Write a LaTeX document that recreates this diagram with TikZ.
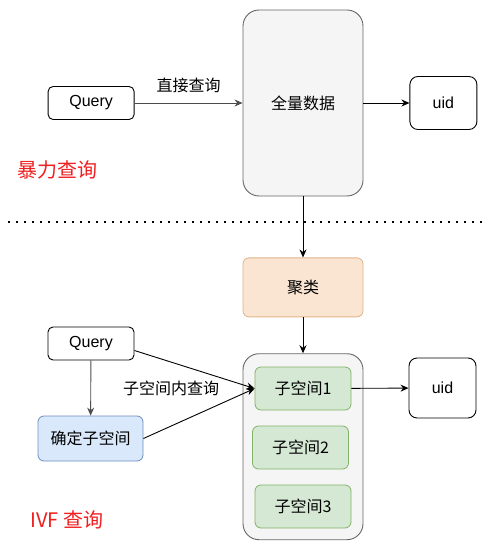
\documentclass[tikz,border=0pt]{standalone}
\usepackage{fontspec}
\setmainfont{Liberation Sans}
\newfontfamily\cjk{Noto Sans CJK SC}
\usepackage{xcolor}
\usetikzlibrary{positioning,arrows.meta}

\definecolor{boxgray}{HTML}{F5F5F5}
\definecolor{edgegray}{HTML}{666666}
\definecolor{orangefill}{HTML}{FAE5D3}
\definecolor{orangeline}{HTML}{E0B488}
\definecolor{greenfill}{HTML}{D5E8D4}
\definecolor{greenline}{HTML}{82B366}
\definecolor{bluefill}{HTML}{DAE8FC}
\definecolor{blueline}{HTML}{6C8EBF}
\definecolor{tagred}{HTML}{F01E1E}

\begin{document}
\begin{tikzpicture}[
  x=1pt, y=-1pt,
  node distance=40pt and 40pt,
  every node/.style={font=\fontsize{16}{18}\selectfont\cjk},
  plain/.style={draw, rounded corners=5pt, line width=0.9pt, minimum height=33pt, minimum width=86pt, inner sep=2pt},
  store/.style={draw=edgegray, fill=boxgray, rounded corners=16pt, line width=0.9pt, minimum width=120pt, minimum height=186pt},
  sub/.style={draw=greenline, fill=greenfill, rounded corners=6pt, line width=0.8pt, minimum width=96pt, minimum height=43pt},
  tag/.style={text=tagred, font=\fontsize{20}{22}\selectfont\cjk},
  arr/.style={-{Stealth[length=8pt,width=7pt]}, line width=0.9pt},
]
\useasboundingbox (0,0) rectangle (488,548);

% brute force
\node[store] (full) at (303,103) {全量数据};
\node[plain, left=108pt of full] (qtop) {\rmfamily Query};
\node[plain, minimum width=67pt, minimum height=53pt, rounded corners=8pt, right=46pt of full] (uidtop) {\rmfamily uid};
\draw[arr, draw=black!70] (qtop) -- node[above=6pt, text=black]{直接查询} (full);
\draw[arr] (full) -- (uidtop);
\node[tag] (bf) at (57,170) {暴力查询};

% divider
\coordinate (dl) at (8,222);
\coordinate (dr) at (482,222);
\draw[line width=2pt, dash pattern=on 2pt off 6pt] (dl) -- (dr);

% clustering
\node[draw=orangeline, fill=orangefill, rounded corners=6pt, line width=0.8pt, minimum width=120pt, minimum height=59pt, below=61pt of full] (clu) {聚类};
\draw[arr] (full) -- (clu);
\node[store, below=36pt of clu] (cont) {};
\draw[arr] (clu) -- (cont);

% subspaces
\node[sub] (s1) at (303,388.5) {子空间1};
\node[sub] (s2) at (300.5,447.5) {子空间2};
\node[sub] (s3) at (303,506.5) {子空间3};
\node[plain, minimum width=67pt, minimum height=60pt, rounded corners=8pt] (uidbot) at (442.5,388) {\rmfamily uid};
\draw[arr] (s1) -- (uidbot);

% IVF
\node[plain] (qbot) at (91,343.5) {\rmfamily Query};
\node[draw=blueline, fill=bluefill, rounded corners=6pt, line width=0.8pt, minimum width=105pt, minimum height=45pt] (det) at (90.5,438.5) {确定子空间};
\draw[arr, draw=black!70] (qbot) -- (det);
\draw[arr] ([yshift=-7pt]qbot.east) -- (s1.west);
\draw[arr] (det.east) -- (s1.west);
\node (inq) at (171,388) {子空间内查询};
\node[tag] (ivf) at (67,520) {IVF 查询};
\end{tikzpicture}
\end{document}
